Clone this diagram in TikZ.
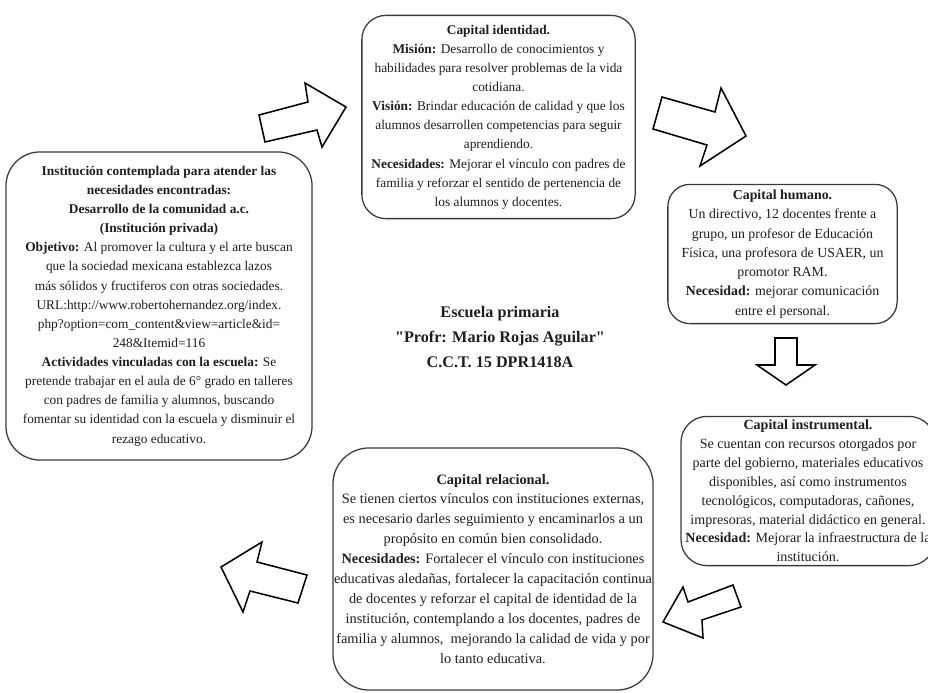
\documentclass[tikz,border=0pt]{standalone}
\usepackage{fontspec}
\setmainfont{Liberation Serif}
% same face without the TeX mapping, so " stays straight
\newfontfamily\plainserif{Liberation Serif}
\definecolor{boxgray}{HTML}{3A3A3A}
\definecolor{inkgray}{HTML}{1E1E1E}

\begin{document}
\begin{tikzpicture}[x=0.025cm, y=-0.025cm,
    capbox/.style={draw=boxgray, line width=0.9pt, align=center, inner sep=0pt,
        text=inkgray, font=\fontsize{9.5}{13.6}\selectfont},
    bigarrow/.style={draw=black, line width=1.1pt, line join=miter, fill=white}]

        % page frame, the lower right box runs off the edge
        \useasboundingbox (0,0) rectangle (928,692);
        \clip (0,0) rectangle (928,692);

        \node [capbox, rounded corners=0.6cm, minimum width=6.83cm, minimum height=5.08cm]
            (identidad) at (498.5,117) {
            \textbf{Capital identidad.}\\
            \textbf{Misión:} Desarrollo de conocimientos y\\
            habilidades para resolver problemas de la vida\\
            cotidiana.\\
            \textbf{Visión:} Brindar educación de calidad y que los\\
            alumnos desarrollen competencias para seguir\\
            aprendiendo.\\
            \textbf{Necesidades:} Mejorar el vínculo con padres de\\
            familia y reforzar el sentido de pertenencia de\\
            los alumnos y docentes.};

        \node [capbox, rounded corners=0.85cm, minimum width=7.65cm, minimum height=7.7cm]
            (institucion) at (159,306) {
            \textbf{Institución contemplada para atender las}\\
            \textbf{necesidades encontradas:}\\
            \textbf{Desarrollo de la comunidad a.c.}\\
            \textbf{(Institución privada)}\\
            \textbf{Objetivo:} Al promover la cultura y el arte buscan\\
            que la sociedad mexicana establezca lazos\\
            más sólidos y fructiferos con otras sociedades.\\
            URL:http://www.robertohernandez.org/index.\\
            php?option=com\_content\&view=article\&id=\\
            248\&Itemid=116\\
            \textbf{Actividades vinculadas con la escuela:} Se\\
            pretende trabajar en el aula de 6° grado en talleres\\
            con padres de familia y alumnos, buscando\\
            fomentar su identidad con la escuela y disminuir el\\
            rezago educativo.};

        \node [capbox, rounded corners=0.55cm, minimum width=5.73cm, minimum height=3.48cm,
            font=\fontsize{9.85}{13.7}\selectfont]
            (humano) at (782.5,254) {
            \textbf{Capital humano.}\\
            Un directivo, 12 docentes frente a\\
            grupo, un profesor de Educación\\
            Física, una profesora de USAER, un\\
            promotor RAM.\\
            \textbf{Necesidad:} mejorar comunicación\\
            entre el personal.};

        \node [capbox, rounded corners=0.65cm, minimum width=6.35cm, minimum height=3.73cm,
            font=\fontsize{10}{13.4}\selectfont]
            (instrumental) at (808,491) {
            \textbf{Capital instrumental.}\\
            Se cuentan con recursos otorgados por\\
            parte del gobierno, materiales educativos\\
            disponibles, así como instrumentos\\
            tecnológicos, computadoras, cañones,\\
            impresoras, material didáctico en general.\\
            \textbf{Necesidad:} Mejorar la infraestructura de la\\
            institución.};

        \node [capbox, rounded corners=0.9cm, minimum width=8cm, minimum height=6.05cm,
            font=\fontsize{10.2}{14.2}\selectfont]
            (relacional) at (493,569) {
            \textbf{Capital relacional.}\\
            Se tienen ciertos vínculos con instituciones externas,\\
            es necesario darles seguimiento y encaminarlos a un\\
            propósito en común bien consolidado.\\
            \textbf{Necesidades:} Fortalecer el vínculo con instituciones\\
            educativas aledañas, fortalecer la capacitación continua\\
            de docentes y reforzar el capital de identidad de la\\
            institución, contemplando a los docentes, padres de\\
            familia y alumnos,\ \ mejorando la calidad de vida y por\\
            lo tanto educativa.};

        % school in the middle
        \node [align=center, text=inkgray, font=\plainserif\fontsize{11.5}{17.5}\selectfont\bfseries]
            (escuela) at (500,337) {
            Escuela primaria\\
            "Profr: Mario Rojas Aguilar"\\
            C.C.T. 15 DPR1418A};

        % block arrows round the cycle
        \draw [bigarrow] (259,115) -- (308,102) -- (305,83) -- (346,107)
            -- (322,147) -- (317,130) -- (265,142) -- cycle;
        \draw [bigarrow] (662,97) -- (715,112) -- (721,88) -- (746,136)
            -- (700,166) -- (707,145) -- (653,129) -- cycle;
        \draw [bigarrow] (775,338) -- (797,338) -- (797,365) -- (815,365)
            -- (786,385) -- (757,365) -- (775,365) -- cycle;
        \draw [bigarrow] (733,585) -- (741,607) -- (702,620) -- (703,638)
            -- (663,622) -- (683,587) -- (688,602) -- cycle;
        \draw [bigarrow] (221,567) -- (262,542) -- (257,562) -- (307,575)
            -- (298,603) -- (250,591) -- (243,612) -- cycle;
    \end{tikzpicture}
\end{document}
